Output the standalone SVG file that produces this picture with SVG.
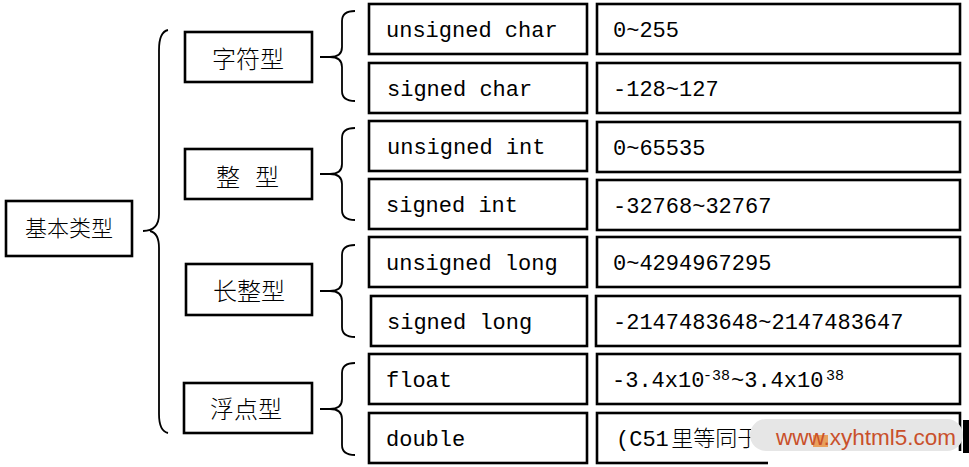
<svg xmlns="http://www.w3.org/2000/svg" width="969" height="467" viewBox="0 0 969 467">
<style>
.box{fill:#fff;stroke:#000;stroke-width:2.6}
.brace{fill:none;stroke:#000;stroke-width:1.8}
.mono{font-family:"Liberation Mono","Courier New",monospace;font-size:22px;fill:#000}
.cjk{font-family:"Liberation Serif","Noto Sans CJK SC",serif;font-size:24px;fill:#000;font-weight:300}
.sup{font-family:"Liberation Mono",monospace;font-size:15px;fill:#000}
</style>
<rect width="969" height="467" fill="#fff"/>
<g id="connectors">
<path class="brace" d="M168 30 Q159 32 159 50 L159 214 Q159 231 143 231 M150 231 Q159 233 159 248 L159 414 Q159 431 168 433"/>
<path class="brace" d="M355 11 Q342 11 342 21 L342 47 Q342 57 330 57 L320 57 M330 57 Q342 57 342 67 L342 91 Q342 101 355 101"/>
<path class="brace" d="M355 128 Q342 128 342 138 L342 164 Q342 174 330 174 L320 174 M330 174 Q342 174 342 184 L342 210 Q342 220 355 220"/>
<path class="brace" d="M355 245 Q342 245 342 255 L342 281 Q342 291 330 291 L320 291 M330 291 Q342 291 342 301 L342 327 Q342 337 355 337"/>
<path class="brace" d="M355 363 Q342 363 342 373 L342 399 Q342 409 330 409 L320 409 M330 409 Q342 409 342 419 L342 445 Q342 455 355 455"/>
</g>
<g id="root"><rect class="box" x="6" y="201" width="126" height="55"/><text class="cjk" x="69" y="236" text-anchor="middle" style="font-size:22px">基本类型</text></g>
<g id="char"><rect class="box" x="185" y="32" width="127" height="50"/><text class="cjk" x="248" y="68" text-anchor="middle">字符型</text></g>
<g id="int"><rect class="box" x="185" y="149" width="127" height="50"/><text class="cjk" x="216" y="186" word-spacing="9">整 型</text></g>
<g id="long"><rect class="box" x="186" y="264" width="126" height="51"/><text class="cjk" x="249" y="300" text-anchor="middle">长整型</text></g>
<g id="float"><rect class="box" x="184" y="383" width="128" height="50"/><text class="cjk" x="246" y="418" text-anchor="middle">浮点型</text></g>

<g id="uchar"><rect class="box" x="369" y="4" width="218" height="50"/><text class="mono" x="386" y="37">unsigned char</text></g>
<g id="uchar-range"><rect class="box" x="597" y="4" width="363" height="50"/><text class="mono" x="613" y="37">0~255</text></g>
<g id="schar"><rect class="box" x="369" y="63" width="218" height="50"/><text class="mono" x="387" y="96">signed char</text></g>
<g id="schar-range"><rect class="box" x="597" y="63" width="363" height="50"/><text class="mono" x="613" y="96">-128~127</text></g>
<g id="uint"><rect class="box" x="369" y="121" width="218" height="50"/><text class="mono" x="387" y="154">unsigned int</text></g>
<g id="uint-range"><rect class="box" x="597" y="122" width="363" height="50"/><text class="mono" x="613" y="155">0~65535</text></g>
<g id="sint"><rect class="box" x="369" y="179" width="218" height="50"/><text class="mono" x="386" y="212">signed int</text></g>
<g id="sint-range"><rect class="box" x="597" y="180" width="363" height="50"/><text class="mono" x="613" y="213">-32768~32767</text></g>
<g id="ulong"><rect class="box" x="369" y="237" width="218" height="50"/><text class="mono" x="386" y="270">unsigned long</text></g>
<g id="ulong-range"><rect class="box" x="597" y="237" width="363" height="50"/><text class="mono" x="613" y="270">0~4294967295</text></g>
<g id="slong"><rect class="box" x="371" y="296" width="216" height="50"/><text class="mono" x="387" y="329">signed long</text></g>
<g id="slong-range"><rect class="box" x="596" y="296" width="364" height="50"/><text class="mono" x="613" y="329">-2147483648~2147483647</text></g>
<g id="flt"><rect class="box" x="369" y="354" width="218" height="50"/><text class="mono" x="386" y="387">float</text></g>
<g id="flt-range"><rect class="box" x="597" y="354" width="363" height="50"/><text class="mono" x="612" y="387">-3.4x10<tspan class="sup" x="703" y="380">-38</tspan><tspan x="731" y="387">~3.4x10</tspan><tspan class="sup" x="826" y="380">38</tspan></text></g>
<g id="dbl"><rect class="box" x="369" y="413" width="218" height="50"/><text class="mono" x="386" y="446">double</text></g>
<g id="dbl-range"><rect class="box" x="597" y="413" width="363" height="50"/><text class="mono" x="616" y="446">(C51<tspan style="font-size:4px"> </tspan><tspan style="font-family:'Noto Sans CJK SC',sans-serif;font-size:22px;font-weight:300">里等同于</tspan></text></g>

<g id="watermark">
<rect x="768" y="451" width="201" height="16" fill="#fff"/>
<rect x="750" y="419" width="213" height="32" rx="16" fill="#e6e6e6"/>
<rect x="963" y="420" width="6" height="33" fill="#000"/>
<rect x="813" y="435" width="15" height="12" fill="#e9a05c"/>
<text x="776" y="445" style="font-family:'Liberation Sans',Arial,sans-serif;font-size:22.5px;fill:#c9502b">www.xyhtml5.com</text>
</g>
</svg>
